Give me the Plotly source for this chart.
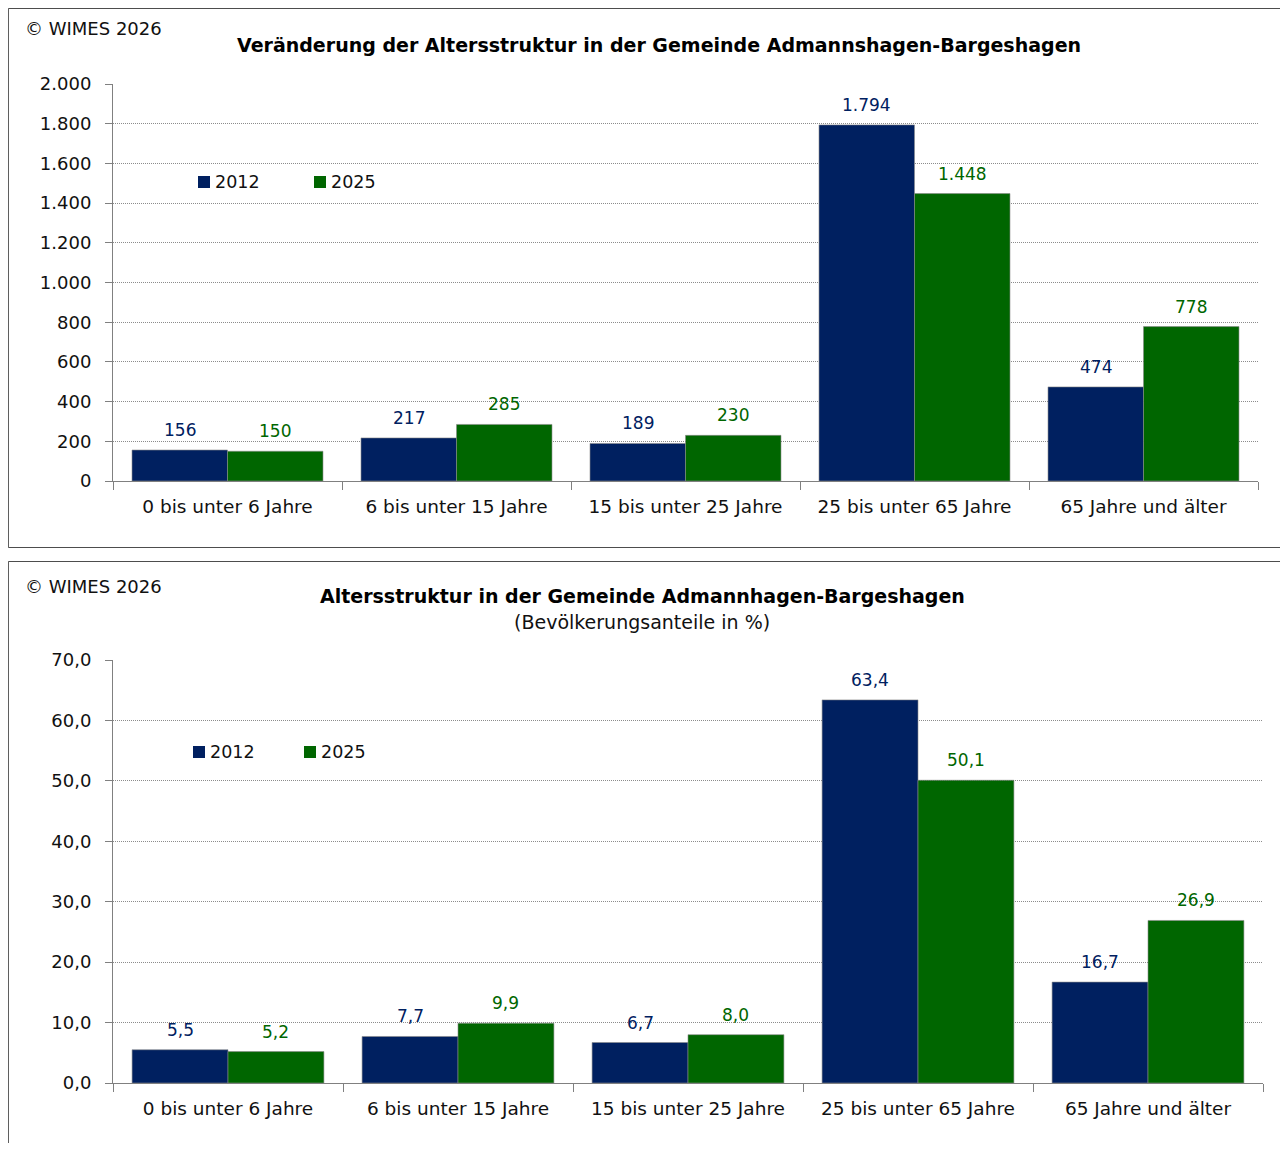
import plotly.graph_objects as go

categories = ["0 bis unter 6 Jahre", "6 bis unter 15 Jahre", "15 bis unter 25 Jahre",
              "25 bis unter 65 Jahre", "65 Jahre und älter"]
series_names = ["2012", "2025"]
abs_2012 = [156, 217, 189, 1794, 474]
abs_2025 = [150, 285, 230, 1448, 778]
pct_2012 = [5.5, 7.7, 6.7, 63.4, 16.7]
pct_2025 = [5.2, 9.9, 8.0, 50.1, 26.9]
title_top = "Veränderung der Altersstruktur in der Gemeinde Admannshagen-Bargeshagen"
title_bottom = "Altersstruktur in der Gemeinde Admannhagen-Bargeshagen"
subtitle_bottom = "(Bevölkerungsanteile in %)"
copyright_text = "© WIMES 2026"

# figure sized to fit the window inside the default 8px page margin
OFF = 8
W, H = 1280, 1135
FONT = "DejaVu Sans"
BLUE = "#002060"
GREEN = "#006600"
colors = [BLUE, GREEN]
BARGAP = 0.166


def px(x):
    return (x - OFF) / W


def py(y):
    return 1 - (y - OFF) / H


def fmt_int(v):
    return f"{v:,}".replace(",", ".")


def fmt_dec(v):
    return f"{v:.1f}".replace(".", ",")


top_dom = (113, 1258)
bot_dom = (113, 1263)

fig = go.Figure()
panels = [
    ("x", "y", [abs_2012, abs_2025], fmt_int, top_dom),
    ("x2", "y2", [pct_2012, pct_2025], fmt_dec, bot_dom),
]
annotations = []
for xa, ya, series, fmt, dom in panels:
    cw = (dom[1] - dom[0]) / len(categories)
    bw = cw * (1 - BARGAP) / 2
    for i, (name, vals, col) in enumerate(zip(series_names, series, colors)):
        fig.add_trace(go.Bar(
            x=categories, y=vals, name=name,
            marker=dict(color=col, line=dict(color="#8a8a8a", width=0.6)),
            xaxis=xa, yaxis=ya, showlegend=False, hoverinfo="x+y+name",
        ))
        shift = (i - 0.5) * bw
        for c, v in zip(categories, vals):
            annotations.append(dict(
                text=fmt(v), x=c, y=v, xref=xa, yref=ya, xshift=shift, yshift=20,
                xanchor="center", yanchor="middle", showarrow=False,
                font=dict(family=FONT, size=17, color=col)))

axis_common_x = dict(type="category", showline=True, linecolor="#808080", linewidth=1,
                     ticks="outside", tickson="boundaries", ticklen=8, tickcolor="#808080",
                     ticklabelstandoff=9,
                     tickfont=dict(family=FONT, size=18.5, color="#111"), showgrid=False)
axis_common_y = dict(showline=True, linecolor="#808080", linewidth=1, ticks="outside", ticklen=7,
                     tickcolor="#808080", tickfont=dict(family=FONT, size=18, color="#111"),
                     ticklabelstandoff=10,
                     showgrid=True, gridcolor="#8c8c8c", griddash="1px,1px", gridwidth=1,
                     zeroline=False)

fig.update_layout(
    width=W, height=H, margin=dict(l=0, r=0, t=0, b=0, autoexpand=False),
    paper_bgcolor="white", plot_bgcolor="white",
    separators=",.",
    barmode="group", bargap=BARGAP, bargroupgap=0,
    font=dict(family=FONT, color="#111"),
    xaxis=dict(domain=[px(top_dom[0]), px(top_dom[1])], anchor="y", **axis_common_x),
    yaxis=dict(domain=[py(481), py(84)], anchor="x", range=[0, 2000], dtick=200,
               tickformat=",d", **axis_common_y),
    xaxis2=dict(domain=[px(bot_dom[0]), px(bot_dom[1])], anchor="y2", **axis_common_x),
    yaxis2=dict(domain=[py(1083), py(660)], anchor="x2", range=[0, 70], dtick=10,
                tickformat=".1f", **axis_common_y),
)

shapes = [
    dict(type="rect", xref="paper", yref="paper", x0=0.4 / W, x1=1 - 0.6 / W,
         y0=py(547.5), y1=1 - 0.5 / H, line=dict(color="#4d4d4d", width=1)),
    dict(type="rect", xref="paper", yref="paper", x0=0.4 / W, x1=1.05, y0=-0.05, y1=py(561.5),
         line=dict(color="#4d4d4d", width=1)),
]
texts = [
    dict(text=copyright_text, x=px(23), y=py(28), xanchor="left", yanchor="middle",
         font=dict(family=FONT, size=18, color="#111")),
    dict(text=f"<b>{title_top}</b>", x=px(659), y=py(45), xanchor="center", yanchor="middle",
         font=dict(family=FONT, size=19, color="#000")),
    dict(text=copyright_text, x=px(23), y=py(586), xanchor="left", yanchor="middle",
         font=dict(family=FONT, size=18, color="#111")),
    dict(text=f"<b>{title_bottom}</b>", x=px(642), y=py(596), xanchor="center", yanchor="middle",
         font=dict(family=FONT, size=19, color="#000")),
    dict(text=subtitle_bottom, x=px(642), y=py(622), xanchor="center", yanchor="middle",
         font=dict(family=FONT, size=19, color="#111")),
]

# custom legends
legend_pos = [((198, 182), (314, 182)), ((193, 752), (304, 752))]
for pair in legend_pos:
    for (lx, ly), name, col in zip(pair, series_names, colors):
        shapes.append(dict(type="rect", xref="paper", yref="paper", x0=px(lx), x1=px(lx + 12),
                           y0=py(ly + 6), y1=py(ly - 6), fillcolor=col, line=dict(width=0)))
        texts.append(dict(text=name, x=px(lx + 15), y=py(ly), xanchor="left", yanchor="middle",
                          font=dict(family=FONT, size=17.5, color="#111")))

for a in texts:
    a["showarrow"] = False
    a["xref"] = "paper"
    a["yref"] = "paper"

fig.update_layout(shapes=shapes, annotations=annotations + texts)
fig.write_html("out.html")
